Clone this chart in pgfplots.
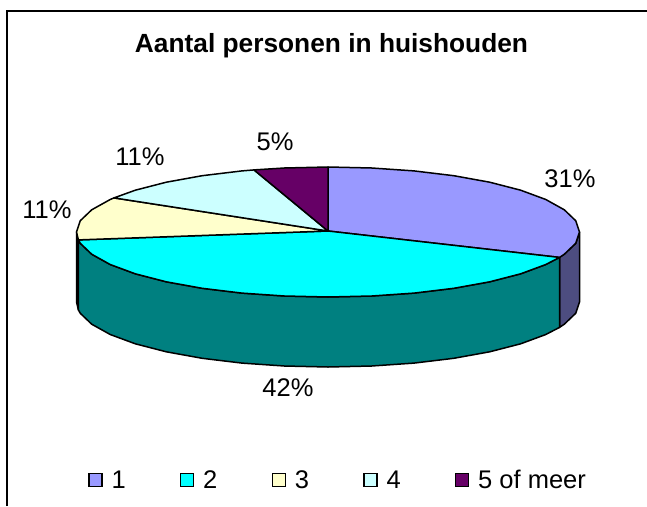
\documentclass[border=0pt]{standalone}
\usepackage{pgfplots}
\pgfplotsset{compat=1.18}
\usepackage{fontspec}
\setmainfont{Liberation Sans}
\definecolor{cA}{HTML}{9999FF}
\definecolor{cB}{HTML}{00FFFF}
\definecolor{cC}{HTML}{FFFFCC}
\definecolor{cD}{HTML}{CCFFFF}
\definecolor{cE}{HTML}{660066}
\definecolor{sA}{HTML}{4D4D80}
\definecolor{sB}{HTML}{008080}
\definecolor{sC}{HTML}{333328}
\newcommand{\fs}[1]{\fontsize{#1}{#1}\selectfont}
\pgfplotsset{
  sq/.style={legend image code/.code={\draw[black,line width=1.3pt,fill=#1] (0pt,-6.5pt) rectangle (13pt,6.5pt);}},
  pie/.style={draw=black,line width=1.5pt,line join=round,forget plot}
}
\begin{document}
\begin{tikzpicture}
\path[use as bounding box] (0,0) rectangle (647pt,506pt);
\begin{axis}[
  at={(0,0)},anchor=south west,
  scale only axis,width=647pt,height=506pt,
  xmin=0,xmax=647,ymin=0,ymax=506,y dir=reverse,
  hide axis,clip=false,
  legend columns=5,
  legend style={draw=none,fill=none,font=\fs{25.5},at={(axis cs:88,480)},anchor=west,inner sep=0pt,
    /tikz/every odd column/.append style={column sep=7pt},
    /tikz/every even column/.append style={column sep=52.2pt}},
]
\draw[black,line width=1.2pt] (axis cs:7,506) -- (axis cs:7,11) -- (axis cs:647,11);
% side faces
\addplot[pie,fill=sA] coordinates {(579.5,232)(575.7,243.3)(564.3,254.2)(559.5,257.4)(559.5,327.4)(564.3,324.2)(575.7,313.3)(579.5,302)} -- cycle;
\addplot[pie,fill=sC] coordinates {(78.4,239.9)(76.5,232)(76.5,302)(78.4,309.9)} -- cycle;
\addplot[pie,fill=sB] coordinates {(559.5,257.4)(545.8,264.5)(520.7,273.8)(489.7,281.8)(453.8,288.3)(414,293.1)(371.7,296)(328,297)(284.3,296)(242,293.1)(202.2,288.3)(166.3,281.8)(135.3,273.8)(110.2,264.5)(91.7,254.2)(80.3,243.3)(78.4,239.9)
 (78.4,309.9)(80.3,313.3)(91.7,324.2)(110.2,334.5)(135.3,343.8)(166.3,351.8)(202.2,358.3)(242,363.1)(284.3,366)(328,367)(371.7,366)(414,363.1)(453.8,358.3)(489.7,351.8)(520.7,343.8)(545.8,334.5)(559.5,327.4)} -- cycle;
% top faces
\addplot[pie,fill=cA] coordinates {(328,231)(328,167)(371.7,168)(414,170.9)(453.8,175.7)(489.7,182.2)(520.7,190.2)(545.8,199.5)(564.3,209.8)(575.7,220.7)(579.5,232)(575.7,243.3)(564.3,254.2)(559.5,257.4)} -- cycle;
\addplot[pie,fill=cB] coordinates {(328,231)(559.5,257.4)(545.8,264.5)(520.7,273.8)(489.7,281.8)(453.8,288.3)(414,293.1)(371.7,296)(328,297)(284.3,296)(242,293.1)(202.2,288.3)(166.3,281.8)(135.3,273.8)(110.2,264.5)(91.7,254.2)(80.3,243.3)(78.4,239.9)} -- cycle;
\addplot[pie,fill=cC] coordinates {(328,231)(78.4,239.9)(76.5,232)(80.3,220.7)(91.7,209.8)(110.2,199.5)(114,197.9)} -- cycle;
\addplot[pie,fill=cD] coordinates {(328,231)(114,197.9)(135.3,190.2)(166.3,182.2)(202.2,175.7)(242,170.9)(254,169.9)} -- cycle;
\addplot[pie,fill=cE] coordinates {(328,231)(254,169.9)(284.3,168)(328,167)} -- cycle;
% labels
\node[font=\bfseries\fs{26.3}] at (axis cs:331.5,46) {Aantal personen in huishouden};
\node[font=\fs{25.5}] at (axis cs:570,179) {31\%};
\node[font=\fs{25.5}] at (axis cs:288,388) {42\%};
\node[font=\fs{25.5}] at (axis cs:47,210) {11\%};
\node[font=\fs{25.5}] at (axis cs:140,157) {11\%};
\node[font=\fs{25.5}] at (axis cs:275,142) {5\%};
% legend
\addlegendimage{sq=cA}\addlegendentry{1}
\addlegendimage{sq=cB}\addlegendentry{2}
\addlegendimage{sq=cC}\addlegendentry{3}
\addlegendimage{sq=cD}\addlegendentry{4}
\addlegendimage{sq=cE}\addlegendentry{5 of meer}
\end{axis}
\end{tikzpicture}
\end{document}
